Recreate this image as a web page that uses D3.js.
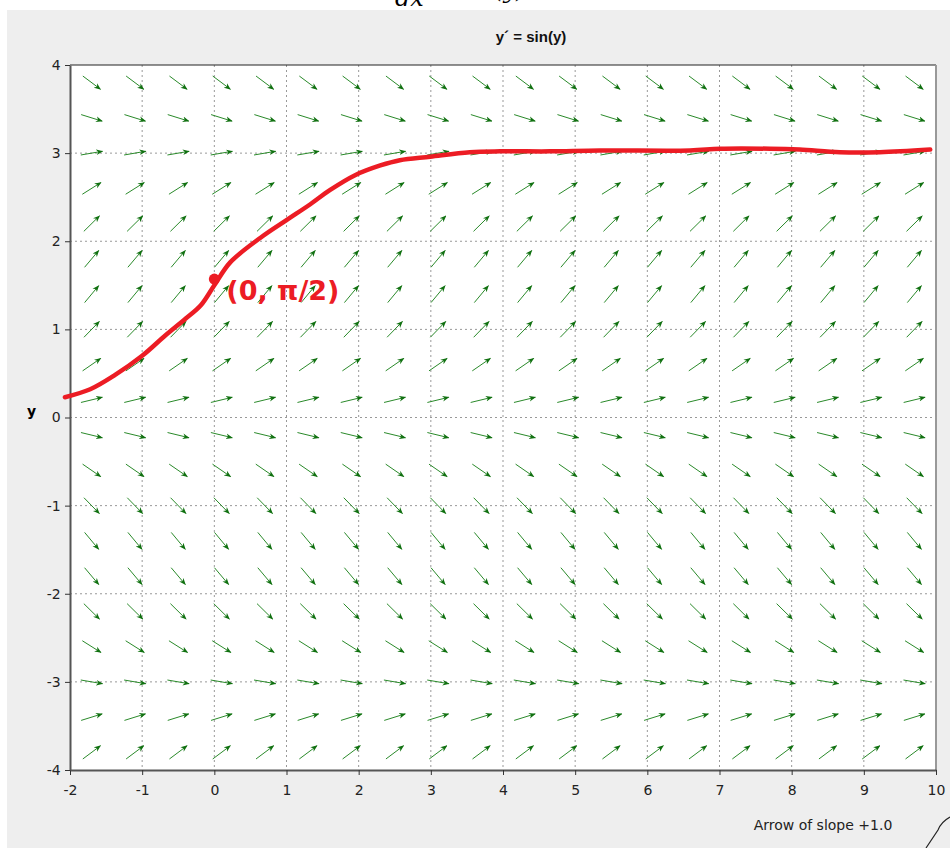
<!DOCTYPE html>
<html>
<head>
<meta charset="utf-8">
<script src="https://cdn.jsdelivr.net/npm/d3@7"></script>
<style>
  body { margin: 0; background: #fff; }
  svg { display: block; }
</style>
</head>
<body>
<svg id="svg" width="950" height="848"></svg>
<script>
// axis ticks
let xTicks = [-2, -1, 0, 1, 2, 3, 4, 5, 6, 7, 8, 9, 10];
let yTicks = [-4, -3, -2, -1, 0, 1, 2, 3, 4];

// slope field sample points
let fieldX = [-1.7, -1.1, -0.5, 0.1, 0.7, 1.3, 1.9, 2.5, 3.1, 3.7, 4.3, 4.9, 5.5, 6.1, 6.7, 7.3, 7.9, 8.5, 9.1, 9.7];
let fieldY = [3.8, 3.4, 3.0, 2.6, 2.2, 1.8, 1.4, 1.0, 0.6, 0.2, -0.2, -0.6, -1.0, -1.4, -1.8, -2.2, -2.6, -3.0, -3.4, -3.8];

// hand drawn solution curve
let curveX = [-2.07, -1.72, -1.38, -1.0, -0.68, -0.40, -0.19, 0, 0.22, 0.64, 1.0, 1.33, 1.60, 1.95, 2.30, 2.57, 2.99, 3.54, 3.96, 4.65, 5.34, 6.59, 7.01, 7.70, 8.11, 8.67, 9.22, 9.92];
let curveY = [0.23, 0.32, 0.48, 0.70, 0.93, 1.12, 1.27, 1.50, 1.76, 2.04, 2.24, 2.42, 2.58, 2.75, 2.86, 2.92, 2.96, 3.01, 3.02, 3.02, 3.03, 3.03, 3.05, 3.05, 3.04, 3.01, 3.01, 3.04];

let svg = d3.select("svg");
let margin = {top: 65, right: 14, bottom: 78, left: 70};
let width = 950 - margin.left - margin.right;
let height = 848 - margin.top - margin.bottom;

// background panel
svg.append("rect").attr("x", 7).attr("y", 10).attr("width", 943).attr("height", 838).attr("fill", "#eeeeee");

// equation above the panel, cut off by the top edge like in the screenshot
svg.append("text").attr("x", 395).attr("y", 6)
  .style("font", "italic 24px 'DejaVu Serif', serif").text("dx");
svg.append("text").attr("x", 495).attr("y", -2)
  .style("font", "italic 22px 'DejaVu Serif', serif").text("(y)");

svg.append("text").attr("x", 531).attr("y", 42).attr("text-anchor", "middle")
  .attr("fill", "#111")
  .style("font", "bold 15px 'Liberation Sans', Arial, sans-serif").text("y\u00b4 = sin(y)");

let g = svg.append("g").attr("transform", "translate(" + margin.left + "," + margin.top + ")");

let x = d3.scaleLinear().domain([-2, 10]).range([0, width]);
let y = d3.scaleLinear().domain([-4, 4]).range([height, 0]);

g.append("rect").attr("width", width).attr("height", height).attr("fill", "#fff");

// dotted grid
g.selectAll(".gx").data(xTicks.slice(1, -1)).enter().append("line")
  .attr("x1", d => x(d)).attr("x2", d => x(d)).attr("y1", 0).attr("y2", height)
  .attr("stroke", "#999").attr("stroke-dasharray", "2,3");
g.selectAll(".gy").data(yTicks.slice(1, -1)).enter().append("line")
  .attr("y1", d => y(d)).attr("y2", d => y(d)).attr("x1", 0).attr("x2", width)
  .attr("stroke", "#999").attr("stroke-dasharray", "2,3");

// arrow head marker
svg.append("defs").append("marker")
  .attr("id", "head").attr("viewBox", "0 0 10 10").attr("refX", 9).attr("refY", 5)
  .attr("markerWidth", 7).attr("markerHeight", 7).attr("markerUnits", "userSpaceOnUse")
  .attr("orient", "auto")
  .append("path").attr("d", "M0,1 L10,5 L0,9 L3,5 Z").attr("fill", "#107010");

// slope field
let arrowLen = 22;
let field = [];
fieldY.forEach(fy => fieldX.forEach(fx => field.push({x: fx, y: fy})));
g.selectAll(".arrow").data(field).enter().append("line")
  .attr("stroke", "#2a8a2a").attr("stroke-width", 1)
  .attr("marker-end", "url(#head)")
  .each(function(d) {
    let px = x(d.x), py = y(d.y);
    // direction in pixel space for slope sin(y)
    let dx = x(d.x + 1) - x(d.x);
    let dy = y(d.y + Math.sin(d.y)) - y(d.y);
    let n = Math.sqrt(dx * dx + dy * dy);
    let ux = dx / n * arrowLen / 2, uy = dy / n * arrowLen / 2;
    d3.select(this).attr("x1", px - ux).attr("y1", py - uy).attr("x2", px + ux).attr("y2", py + uy);
  });

// frame
g.append("line").attr("x1", 0).attr("x2", width).attr("y1", 0).attr("y2", 0).attr("stroke", "#222");
g.append("line").attr("x1", width).attr("x2", width).attr("y1", 0).attr("y2", height).attr("stroke", "#999").attr("stroke-width", 2);

let xAxis = g.append("g").attr("transform", "translate(0," + height + ")")
  .call(d3.axisBottom(x).tickValues(xTicks).tickFormat(d => String(d)).tickSize(5).tickSizeOuter(0));
let yAxis = g.append("g")
  .call(d3.axisLeft(y).tickValues(yTicks).tickFormat(d => String(d)).tickSize(5).tickSizeOuter(0));
[xAxis, yAxis].forEach(a => {
  a.select(".domain").attr("stroke", "#555").attr("stroke-width", 2);
  a.selectAll(".tick line").attr("stroke", "#333");
  a.selectAll(".tick text").attr("fill", "#222")
    .style("font", "14px 'DejaVu Sans', sans-serif");
});
xAxis.selectAll(".tick text").attr("dy", "1.2em");
yAxis.selectAll(".tick text").attr("dx", "-0.1em");

svg.append("text").attr("x", 27).attr("y", 416)
  .style("font", "bold 14px 'DejaVu Sans', sans-serif").text("y");

// red curve
let curve = curveX.map((cx, i) => ({x: cx, y: curveY[i]}));
let line = d3.line().x(d => x(d.x)).y(d => y(d.y)).curve(d3.curveCatmullRom);
g.append("path").datum(curve)
  .attr("fill", "none").attr("stroke", "#ec1c24").attr("stroke-width", 4.5)
  .attr("stroke-linecap", "round").attr("stroke-linejoin", "round")
  .attr("d", line);
g.append("circle").attr("cx", x(0)).attr("cy", y(Math.PI / 2)).attr("r", 5.5).attr("fill", "#ec1c24");
g.append("text").attr("x", x(0) + 12).attr("y", y(Math.PI / 2) + 21)
  .attr("fill", "#ec1c24")
  .style("font", "bold 27px 'DejaVu Sans', sans-serif")
  .text("(0, \u03c0/2)");

// slope legend
svg.append("text").attr("x", 823).attr("y", 830).attr("text-anchor", "middle")
  .attr("fill", "#222")
  .style("font", "14px 'DejaVu Sans', sans-serif").text("Arrow of slope +1.0");
svg.append("path").attr("d", "M926,848 L938,830 Q941,822 950,817")
  .attr("fill", "none").attr("stroke", "#222").attr("stroke-width", 1.2);
</script>
</body>
</html>
